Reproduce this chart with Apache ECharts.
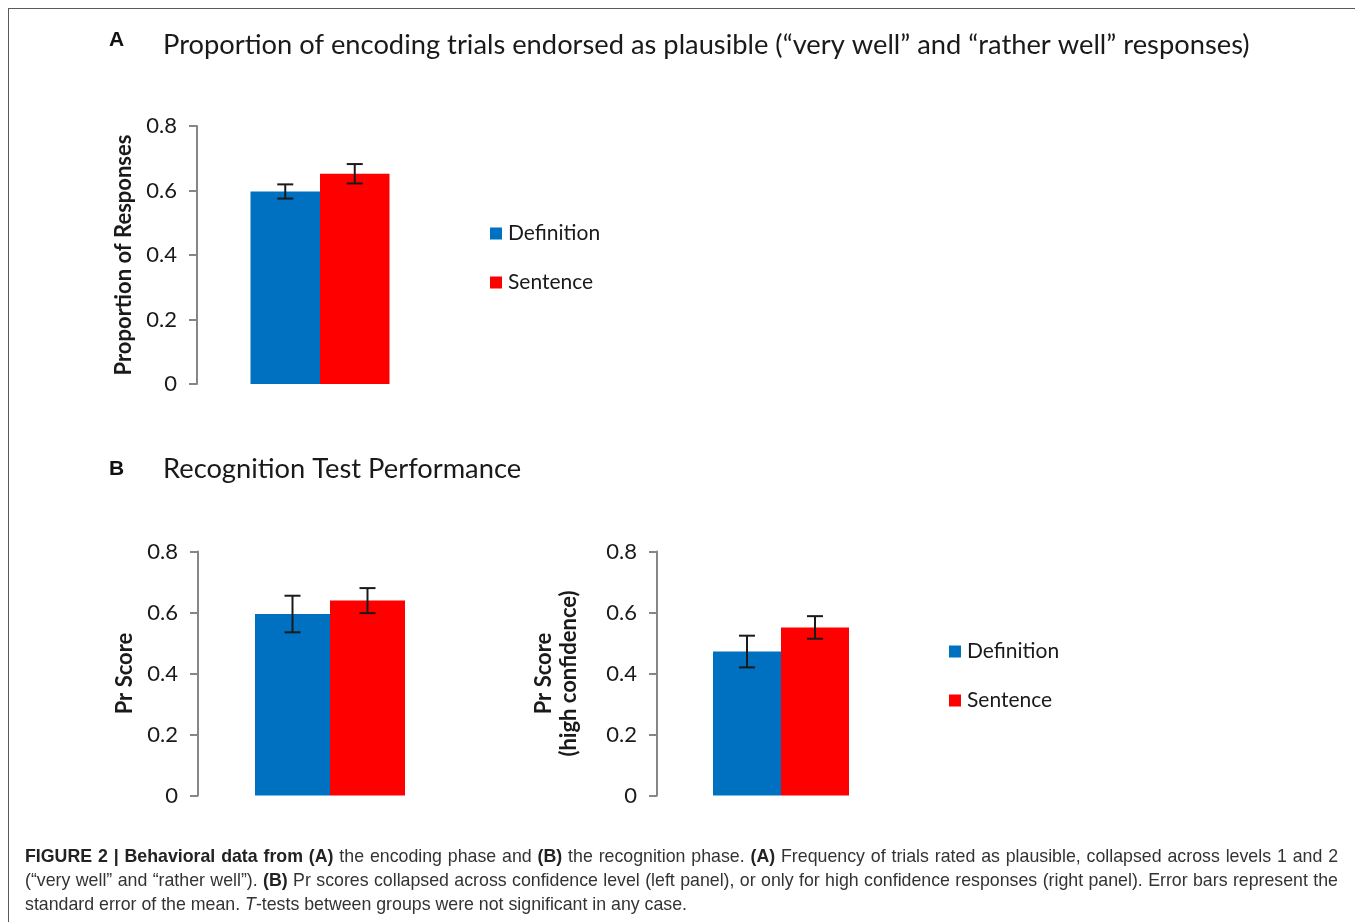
<!DOCTYPE html>
<html>
<head>
<meta charset="utf-8">
<script src="https://cdn.jsdelivr.net/npm/echarts@6/dist/echarts.min.js"></script>
<style>
  html, body { margin: 0; padding: 0; background: #fff; }
  #wrap { position: relative; width: 1355px; height: 922px; overflow: hidden; }
  #chart { position: absolute; left: 0; top: 0; width: 1355px; height: 922px; }
  #frame { position: absolute; left: 8px; top: 8px; width: 1400px; height: 1000px;
           border-left: 1.5px solid #5a5a5a; border-top: 1.5px solid #5a5a5a; pointer-events: none; }
  #caption { position: absolute; left: 25px; top: 844px; width: 1313px;
             font-family: "Liberation Sans", Arial, sans-serif; font-size: 17.75px; color: #333; line-height: 24px; }
  #caption .ln { text-align: justify; text-align-last: justify; white-space: nowrap; }
  #caption .last { text-align: left; text-align-last: left; }
  #caption b { color: #222; }
</style>
</head>
<body>
<div id="wrap">
  <div id="chart"></div>
  <div id="frame"></div>
  <div id="caption">
    <div class="ln"><b>FIGURE 2 | Behavioral data from (A)</b> the encoding phase and <b>(B)</b> the recognition phase. <b>(A)</b> Frequency of trials rated as plausible, collapsed across levels 1 and 2</div>
    <div class="ln">(“very well” and “rather well”). <b>(B)</b> Pr scores collapsed across confidence level (left panel), or only for high confidence responses (right panel). Error bars represent the</div>
    <div class="ln last">standard error of the mean. <i>T</i>-tests between groups were not significant in any case.</div>
  </div>
</div>
<script>
// ---- data ----
const panelCategories = ['Encoding plausibility', 'Pr score', 'Pr score (high confidence)'];
const seriesNames = ['Definition', 'Sentence'];
const definitionMeans = [0.597, 0.595, 0.472];
const definitionSE    = [0.022, 0.060, 0.052];
const sentenceMeans   = [0.652, 0.639, 0.551];
const sentenceSE      = [0.030, 0.041, 0.037];
const yTickValues = [0, 0.2, 0.4, 0.6, 0.8];
const yAxisNames = ['Proportion of Responses', 'Pr Score', 'Pr Score\n(high confidence)'];
const panelTitles = ['Proportion of encoding trials endorsed as plausible (“very well” and “rather well” responses)', 'Recognition Test Performance'];
const panelLetters = ['A', 'B'];

// ---- styling / layout ----
const BLUE = '#0070C0', RED = '#FF0000';
const FONT = 'Lato, "Open Sans", sans-serif';
const grids = [
  { left: 197, top: 126, width: 246, height: 258 },
  { left: 198, top: 551.5, width: 264, height: 244 },
  { left: 657, top: 551.5, width: 248, height: 244 }
];
const barWidths = [69.5, 75, 68];
const nameGaps = [61, 61, 76];

const chart = echarts.init(document.getElementById('chart'));

function errSeries(gi, means, ses, side) {
  return {
    type: 'custom',
    name: 'err-' + gi + '-' + side,
    xAxisIndex: gi, yAxisIndex: gi,
    z: 10,
    silent: true,
    data: [[0, means[gi] - ses[gi], means[gi] + ses[gi]]],
    renderItem: function (params, api) {
      const lo = api.coord([api.value(0), api.value(1)]);
      const hi = api.coord([api.value(0), api.value(2)]);
      const x = lo[0] + side * barWidths[gi] / 2;
      const cap = 8;
      const style = { stroke: '#1a1a1a', lineWidth: 2 };
      return {
        type: 'group',
        children: [
          { type: 'line', shape: { x1: x, y1: hi[1], x2: x, y2: lo[1] }, style: style },
          { type: 'line', shape: { x1: x - cap, y1: hi[1], x2: x + cap, y2: hi[1] }, style: style },
          { type: 'line', shape: { x1: x - cap, y1: lo[1], x2: x + cap, y2: lo[1] }, style: style }
        ]
      };
    }
  };
}

const xAxes = [], yAxes = [], series = [];
grids.forEach(function (g, i) {
  xAxes.push({
    type: 'category', gridIndex: i, data: [panelCategories[i]],
    axisLine: { show: false }, axisTick: { show: false }, axisLabel: { show: false }
  });
  yAxes.push({
    type: 'value', gridIndex: i, min: yTickValues[0], max: yTickValues[yTickValues.length - 1], interval: 0.2,
    splitLine: { show: false },
    axisLine: { show: true, lineStyle: { color: '#868686', width: 2 } },
    axisTick: { show: true, length: 8, lineStyle: { color: '#868686', width: 2 } },
    axisLabel: { color: '#1a1a1a', fontSize: 22, fontFamily: FONT, margin: 20 },
    name: yAxisNames[i], nameLocation: 'middle', nameRotate: 90, nameGap: nameGaps[i],
    nameTextStyle: { color: '#1a1a1a', fontSize: 22, fontWeight: 'bold', fontFamily: FONT, lineHeight: 25 }
  });
  series.push({
    type: 'bar', name: seriesNames[0], xAxisIndex: i, yAxisIndex: i,
    data: [definitionMeans[i]], barWidth: barWidths[i], barGap: '0%',
    itemStyle: { color: BLUE }, silent: true
  });
  series.push({
    type: 'bar', name: seriesNames[1], xAxisIndex: i, yAxisIndex: i,
    data: [sentenceMeans[i]], barWidth: barWidths[i], barGap: '0%',
    itemStyle: { color: RED }, silent: true
  });
  series.push(errSeries(i, definitionMeans, definitionSE, -1));
  series.push(errSeries(i, sentenceMeans, sentenceSE, 1));
});

const legendBase = {
  orient: 'vertical', icon: 'rect', itemWidth: 12, itemHeight: 12, itemGap: 28,
  selectedMode: false, data: seriesNames, padding: 0,
  textStyle: { color: '#1a1a1a', fontSize: 21, fontFamily: FONT, padding: [0, 0, 0, 1] }
};

const option = {
  animation: false,
  backgroundColor: '#ffffff',
  title: [
    { text: panelLetters[0], left: 109, top: 30, padding: 0, textStyle: { fontSize: 21, fontWeight: 'bold', color: '#111', fontFamily: '"Liberation Sans", Arial, sans-serif' } },
    { text: panelTitles[0], left: 163, top: 32, padding: 0, textStyle: { fontSize: 27.3, fontWeight: 'normal', color: '#1a1a1a', fontFamily: FONT } },
    { text: panelLetters[1], left: 109, top: 459, padding: 0, textStyle: { fontSize: 21, fontWeight: 'bold', color: '#111', fontFamily: '"Liberation Sans", Arial, sans-serif' } },
    { text: panelTitles[1], left: 163, top: 456, padding: 0, textStyle: { fontSize: 27.3, fontWeight: 'normal', color: '#1a1a1a', fontFamily: FONT } }
  ],
  legend: [
    Object.assign({}, legendBase, { left: 490, top: 223 }),
    Object.assign({}, legendBase, { left: 949, top: 641 })
  ],
  grid: grids,
  xAxis: xAxes,
  yAxis: yAxes,
  series: series
};
chart.setOption(option);
</script>
</body>
</html>
